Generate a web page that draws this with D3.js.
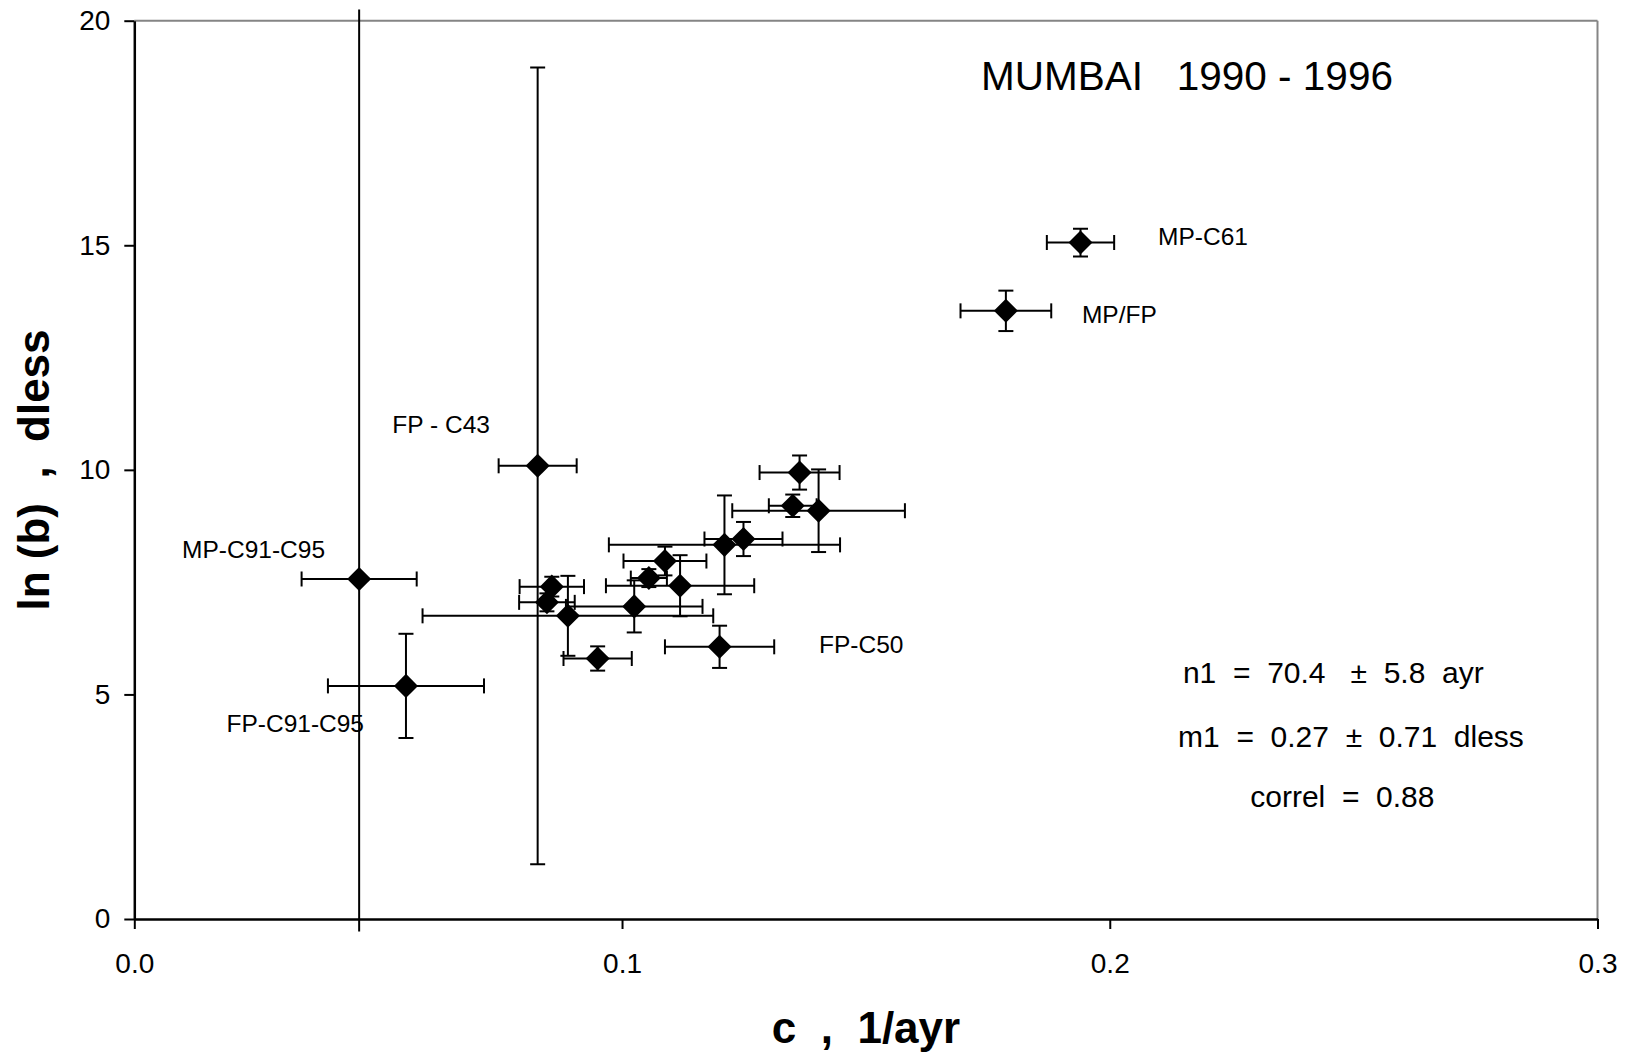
<!DOCTYPE html>
<html>
<head>
<meta charset="utf-8">
<title>MUMBAI 1990 - 1996</title>
<script src="https://d3js.org/d3.v7.min.js"></script>
<style>
  body { margin: 0; background: #fff; }
  text { font-family: "Liberation Sans", Arial, sans-serif; fill: #000; white-space: pre; }
</style>
</head>
<body>
<div id="chart"></div>
<script>
// c (1/ayr) with its error, ln(b) (dless) with its error
var cVals   = [0.1940, 0.1787, 0.0827, 0.0461, 0.0557, 0.1364, 0.1350, 0.1403, 0.1210, 0.1249,
               0.1088, 0.1055, 0.1119, 0.1025, 0.0889, 0.0950, 0.1200, 0.0856, 0.0846];
var cErr    = [0.0069, 0.0093, 0.0080, 0.0118, 0.0160, 0.0082, 0.0049, 0.0177, 0.0237, 0.0080,
               0.0085, 0.0037, 0.0152, 0.0140, 0.0298, 0.0070, 0.0112, 0.0066, 0.0057];
var lnbVals = [15.06, 13.54, 10.09, 7.57, 5.19, 9.94, 9.20, 9.09, 8.33, 8.46,
               7.97, 7.59, 7.42, 6.96, 6.75, 5.80, 6.06, 7.40, 7.05];
var lnbErr  = [0.31, 0.45, 8.87, 20.0, 1.16, 0.38, 0.25, 0.92, 1.10, 0.38,
               0.32, 0.20, 0.68, 0.58, 0.89, 0.27, 0.47, 0.22, 0.20];

var pointNames = ["MP-C61", "MP/FP", "FP - C43", "MP-C91-C95", "FP-C91-C95", "FP-C50"];
var nameAtC    = [0.2099, 0.1943, 0.0529, 0.0098, 0.0189, 0.1404];
var nameAtLnb  = [15.01, 13.27, 10.81, 8.03, 4.16, 5.92];

var xTicks = [0, 0.1, 0.2, 0.3];
var yTicks = [0, 5, 10, 15, 20];

var title = "MUMBAI   1990 - 1996";
var stats = ["n1  =  70.4   \u00b1  5.8  ayr", "m1  =  0.27  \u00b1  0.71  dless", "correl  =  0.88"];

var margin = {top: 20.7, right: 34.5, bottom: 135, left: 134.3},
    width = 1632 - margin.left - margin.right,
    height = 1054 - margin.top - margin.bottom;

var x = d3.scaleLinear().domain([0, 0.3]).range([0, width]);
var y = d3.scaleLinear().domain([0, 20]).range([height, 0]);

var svg = d3.select("#chart").append("svg")
    .attr("width", 1632)
    .attr("height", 1054)
    .append("g")
    .attr("transform", "translate(" + margin.left + "," + margin.top + ")");

// plot area frame (top / right in grey)
svg.append("line").attr("x1", 0).attr("x2", width).attr("y1", 0).attr("y2", 0)
    .attr("stroke", "#858585").attr("stroke-width", 2);
svg.append("line").attr("x1", width).attr("x2", width).attr("y1", 0).attr("y2", height)
    .attr("stroke", "#858585").attr("stroke-width", 2);

// axes
var xAxis = svg.append("g")
    .attr("transform", "translate(0," + height + ")")
    .call(d3.axisBottom(x).tickValues(xTicks).tickFormat(d3.format(".1f"))
        .tickSize(10).tickSizeOuter(0).tickPadding(24));
var yAxis = svg.append("g")
    .call(d3.axisLeft(y).tickValues(yTicks).tickFormat(d3.format("d"))
        .tickSize(10).tickSizeOuter(0).tickPadding(14));

[xAxis, yAxis].forEach(function(a) {
    a.select(".domain").attr("stroke", "#000").attr("stroke-width", 2.5);
    a.selectAll(".tick line").attr("stroke", "#000").attr("stroke-width", 2);
    a.selectAll(".tick text").attr("font-size", 28)
        .style("font-family", "'Liberation Sans', Arial, sans-serif");
});

// error bars, clipped a little outside the plot like the original
svg.append("clipPath").attr("id", "clip")
    .append("rect")
    .attr("x", -20).attr("width", width + 40)
    .attr("y", y(20.25)).attr("height", y(-0.28) - y(20.25));

var idx = d3.range(cVals.length);
var cap = 7.5;
var bars = svg.append("g").attr("clip-path", "url(#clip)")
    .attr("stroke", "#000").attr("stroke-width", 2).attr("fill", "none");

var eb = bars.selectAll("g.err").data(idx).enter().append("g").attr("class", "err");
// horizontal
eb.append("line")
    .attr("x1", function(i) { return x(cVals[i] - cErr[i]); })
    .attr("x2", function(i) { return x(cVals[i] + cErr[i]); })
    .attr("y1", function(i) { return y(lnbVals[i]); })
    .attr("y2", function(i) { return y(lnbVals[i]); });
eb.append("line")
    .attr("x1", function(i) { return x(cVals[i] - cErr[i]); })
    .attr("x2", function(i) { return x(cVals[i] - cErr[i]); })
    .attr("y1", function(i) { return y(lnbVals[i]) - cap; })
    .attr("y2", function(i) { return y(lnbVals[i]) + cap; });
eb.append("line")
    .attr("x1", function(i) { return x(cVals[i] + cErr[i]); })
    .attr("x2", function(i) { return x(cVals[i] + cErr[i]); })
    .attr("y1", function(i) { return y(lnbVals[i]) - cap; })
    .attr("y2", function(i) { return y(lnbVals[i]) + cap; });
// vertical
eb.append("line")
    .attr("x1", function(i) { return x(cVals[i]); })
    .attr("x2", function(i) { return x(cVals[i]); })
    .attr("y1", function(i) { return y(lnbVals[i] - lnbErr[i]); })
    .attr("y2", function(i) { return y(lnbVals[i] + lnbErr[i]); });
eb.append("line")
    .attr("x1", function(i) { return x(cVals[i]) - cap; })
    .attr("x2", function(i) { return x(cVals[i]) + cap; })
    .attr("y1", function(i) { return y(lnbVals[i] - lnbErr[i]); })
    .attr("y2", function(i) { return y(lnbVals[i] - lnbErr[i]); });
eb.append("line")
    .attr("x1", function(i) { return x(cVals[i]) - cap; })
    .attr("x2", function(i) { return x(cVals[i]) + cap; })
    .attr("y1", function(i) { return y(lnbVals[i] + lnbErr[i]); })
    .attr("y2", function(i) { return y(lnbVals[i] + lnbErr[i]); });

// diamonds
var diamond = d3.symbol().type(d3.symbolSquare).size(289);
svg.selectAll("path.pt").data(idx).enter().append("path")
    .attr("class", "pt")
    .attr("d", diamond)
    .attr("fill", "#000")
    .attr("transform", function(i) {
        return "translate(" + x(cVals[i]) + "," + y(lnbVals[i]) + ") rotate(45)";
    });

// point names
svg.selectAll("text.name").data(pointNames).enter().append("text")
    .attr("class", "name")
    .attr("x", function(d, i) { return x(nameAtC[i]); })
    .attr("y", function(d, i) { return y(nameAtLnb[i]); })
    .attr("font-size", 24.5)
    .text(function(d) { return d; });

// title and fit results
svg.append("text")
    .attr("x", x(0.1736)).attr("y", y(18.46))
    .attr("font-size", 40.5)
    .text(title);

var statsAtC = [0.2150, 0.2140, 0.2288];
var statsAtLnb = [5.25, 3.83, 2.49];
svg.selectAll("text.stat").data(stats).enter().append("text")
    .attr("class", "stat")
    .attr("x", function(d, i) { return x(statsAtC[i]); })
    .attr("y", function(d, i) { return y(statsAtLnb[i]); })
    .attr("font-size", 30)
    .text(function(d) { return d; });

// axis titles
svg.append("text")
    .attr("x", (866 - margin.left)).attr("y", 1043 - margin.top)
    .attr("text-anchor", "middle")
    .attr("font-size", 44).attr("font-weight", "bold")
    .text("c  ,  1/ayr");

svg.append("text")
    .attr("transform", "translate(" + (49 - margin.left) + "," + (470 - margin.top) + ") rotate(-90)")
    .attr("text-anchor", "middle")
    .attr("font-size", 44).attr("font-weight", "bold")
    .text("ln (b)  ,  dless");
</script>
</body>
</html>
